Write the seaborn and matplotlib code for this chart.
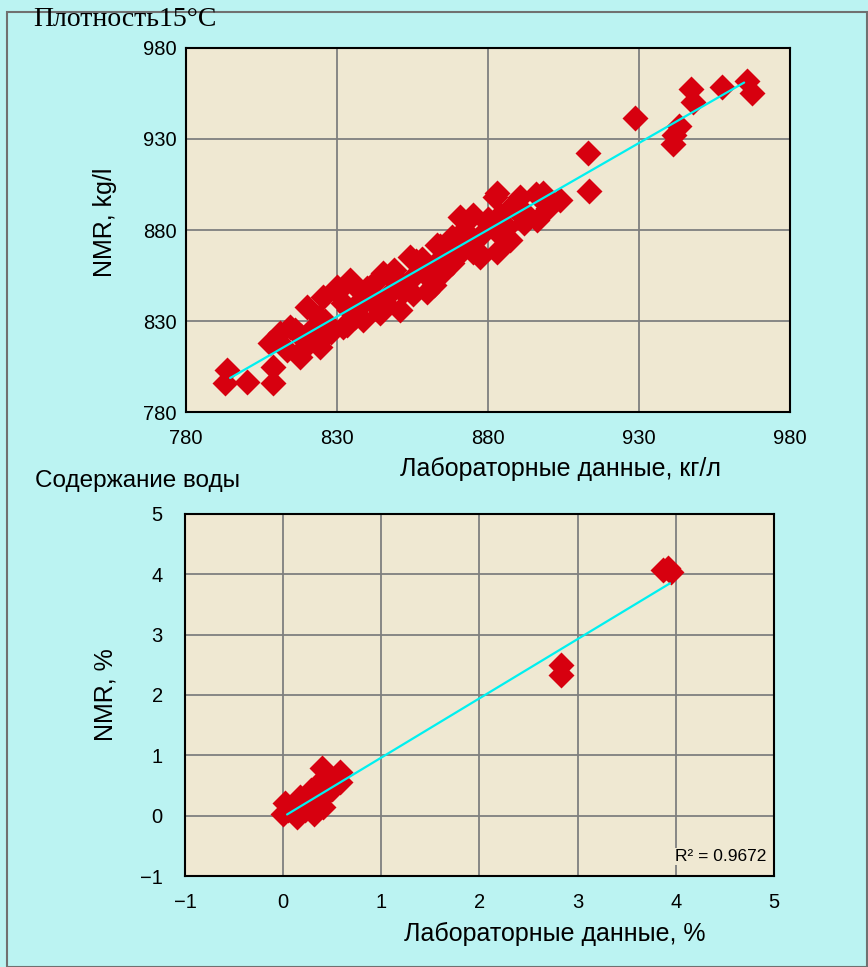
import numpy as np
import pandas as pd
import matplotlib
matplotlib.use("Agg")
import matplotlib.pyplot as plt
from matplotlib.patches import Rectangle
import seaborn as sns

### Data
# density, lab vs NMR (kg/l)
dens_lab = [793.6, 792.9, 800.2, 808.8, 808.8, 807.8, 813.4, 817.7, 823.4, 820.0,
            811.1, 814.4, 825.4, 832.0, 830.0, 834.3, 838.6, 843.2, 843.2, 824.4,
            818.0, 826.0, 822.0, 830.0, 845.2, 854.2, 863.1, 868.1, 833.3, 844.2,
            850.9, 859.8, 864.8, 875.0, 883.0, 836.0, 840.0, 848.0, 852.0, 856.0,
            860.0, 864.0, 870.0, 874.0, 878.0, 849.0, 858.0, 838.0, 846.0, 855.0,
            862.0, 890.6, 883.0, 886.3, 887.3, 875.0, 870.7, 867.4, 877.3, 898.2,
            903.9, 896.2, 882.3, 889.6, 880.0, 884.0, 892.0, 872.0, 868.0, 913.1,
            913.4, 928.6, 943.2, 941.2, 941.5, 947.2, 947.9, 957.4, 965.8, 967.4,
            816.0, 820.0, 824.0, 828.0, 832.0, 836.0, 840.0, 844.0, 848.0, 852.0,
            856.0, 860.0, 864.0, 868.0, 872.0, 876.0, 880.0, 884.0, 888.0, 892.0,
            896.0, 900.0, 818.0, 826.0, 834.0, 842.0, 850.0, 858.0, 866.0, 874.0,
            882.0, 890.0, 898.0]
dens_nmr = [803.1, 795.9, 796.5, 795.9, 804.7, 817.9, 814.0, 810.2, 817.9, 837.7,
            823.4, 826.7, 843.2, 826.7, 848.7, 852.5, 830.5, 852.5, 837.7, 815.7,
            822.0, 830.0, 826.0, 845.9, 856.3, 865.1, 871.7, 876.1, 827.8, 834.4,
            836.0, 845.9, 856.3, 867.9, 867.9, 838.0, 842.0, 846.0, 850.0, 856.0,
            858.0, 864.0, 866.0, 874.0, 878.0, 858.0, 864.0, 846.0, 840.0, 845.0,
            850.0, 898.0, 900.2, 881.6, 874.4, 888.2, 887.0, 874.4, 865.1, 900.2,
            896.4, 885.4, 898.0, 892.6, 884.0, 888.0, 890.0, 880.0, 870.0, 922.2,
            901.4, 941.4, 937.1, 927.1, 932.0, 957.3, 950.2, 958.5, 961.7, 955.1,
            825.0, 817.0, 832.0, 824.0, 840.0, 832.0, 848.0, 838.0, 855.0, 846.0,
            863.0, 854.0, 871.0, 862.0, 879.0, 869.0, 886.0, 877.0, 893.0, 884.0,
            900.0, 892.0, 821.0, 829.0, 836.0, 844.0, 851.0, 859.0, 867.0, 874.0,
            882.0, 890.0, 897.0]
dens_trend_x = [794.6, 964.8]
dens_trend_y = [798.7, 961.0]

# water content, lab vs NMR (%)
water_lab = [0.02, 0.00, 0.14, 0.31, 0.41, 0.45, 0.17, 0.28, 0.41, 0.40,
             0.58, 0.58, 0.10, 0.22, 0.05, 0.35, 0.50, 2.83, 2.83, 3.92, 3.95, 3.87]
water_nmr = [0.21, 0.02, -0.02, 0.02, 0.15, 0.38, 0.31, 0.43, 0.60, 0.79,
             0.73, 0.55, 0.15, 0.10, 0.10, 0.25, 0.45, 2.50, 2.33, 4.10, 4.03, 4.07]
water_trend_x = [0.04, 3.94]
water_trend_y = [0.02, 3.85]
r2_text = "R\u00b2 = 0.9672"

dens = pd.DataFrame({"lab": dens_lab, "nmr": dens_nmr})
water = pd.DataFrame({"lab": water_lab, "nmr": water_nmr})

sns.set_style("white")
plt.rcParams['font.family'] = ['Liberation Sans', 'DejaVu Sans']
plt.rcParams['text.color'] = 'black'
plt.rcParams['axes.labelcolor'] = 'black'
plt.rcParams['xtick.color'] = 'black'
plt.rcParams['ytick.color'] = 'black'

bg = "#BBF3F2"
panel = "#EFE8D2"
red = "#D7000F"
cyan = "#00F0F0"
grid = "#7F7F7F"

fig = plt.figure(figsize=(8.68, 9.67), dpi=100, facecolor=bg)
fig.patches.append(Rectangle((7 / 868, 0.0), 860 / 868, 1 - 12 / 967,
                             transform=fig.transFigure, fill=False,
                             edgecolor="#707070", linewidth=1.5))

ax1 = fig.add_axes([0.2143, 0.5739, 0.6959, 0.3765])
ax2 = fig.add_axes([0.2131, 0.0941, 0.6786, 0.3744])

for ax in (ax1, ax2):
    ax.set_facecolor(panel)
    ax.grid(True, color=grid, linewidth=1.3)
    ax.set_axisbelow(True)
    for s in ax.spines.values():
        s.set_color("black")
        s.set_linewidth(1.5)

sns.scatterplot(data=dens, x="lab", y="nmr", ax=ax1, marker="D", s=175,
                color=red, linewidth=0, zorder=3)
ax1.plot(dens_trend_x, dens_trend_y, color=cyan, linewidth=1.6, zorder=4)
ax1.set_xlim(780, 980)
ax1.set_ylim(780, 980)
ax1.set_xticks([780, 830, 880, 930, 980])
ax1.set_yticks([780, 830, 880, 930, 980])
ax1.tick_params(length=0, labelsize=14.5)
ax1.tick_params(axis="x", pad=12)
ax1.tick_params(axis="y", pad=7)
ax1.set_xlabel("Лабораторные данные, кг/л", fontsize=18)
ax1.xaxis.set_label_coords(0.62, -0.123)
ax1.set_ylabel("NMR, kg/l", fontsize=18)
ax1.yaxis.set_label_coords(-0.114, 0.52)

sns.scatterplot(data=water, x="lab", y="nmr", ax=ax2, marker="D", s=175,
                color=red, linewidth=0, zorder=3)
ax2.plot(water_trend_x, water_trend_y, color=cyan, linewidth=1.6, zorder=4)
ax2.set_xlim(-1, 5)
ax2.set_ylim(-1, 5)
ax2.set_xticks(range(-1, 6))
ax2.set_yticks(range(-1, 6))
ax2.set_yticklabels(["\u22121"] + [str(v) for v in range(0, 6)])
ax2.tick_params(length=0, labelsize=14.5)
ax2.tick_params(axis="x", pad=12)
ax2.tick_params(axis="y", pad=16)
ax2.set_xlabel("Лабораторные данные, %", fontsize=18)
ax2.xaxis.set_label_coords(0.628, -0.128)
ax2.set_ylabel("NMR, %", fontsize=18)
ax2.yaxis.set_label_coords(-0.115, 0.5)
ax2.text(0.987, 0.033, r2_text, transform=ax2.transAxes, ha="right", va="bottom",
         fontsize=12.5, zorder=5,
         bbox=dict(facecolor=panel, edgecolor="none", pad=1))

fig.text(33 / 868, 1 - 19 / 967, "Плотность15°C", fontsize=20,
         family=["Liberation Serif", "DejaVu Serif"], va="center", ha="left")
fig.text(35 / 868, 1 - 481 / 967, "Содержание воды", fontsize=17.5,
         va="center", ha="left")

fig.savefig("out.png", dpi=100, facecolor=bg)
